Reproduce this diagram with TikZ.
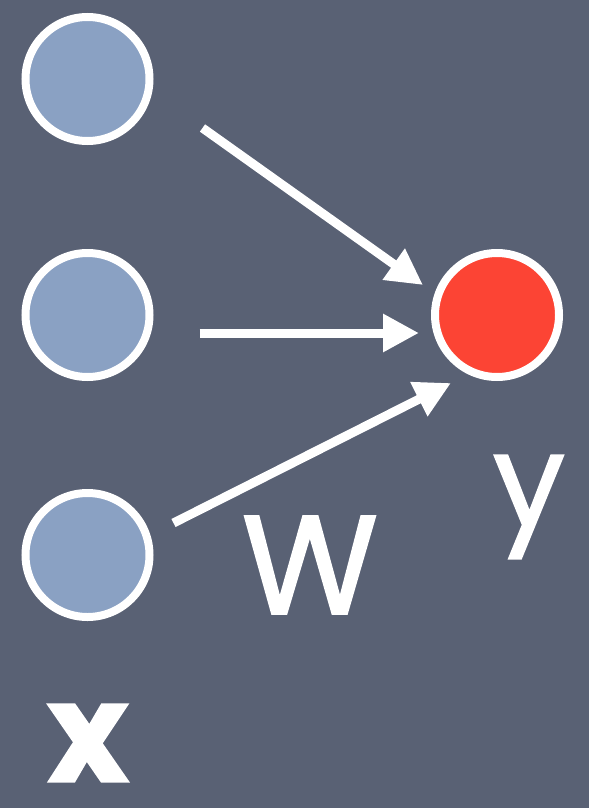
\documentclass[tikz,border=0pt]{standalone}
\usepackage{fontspec}
\setmainfont{Poppins}
\newfontfamily\chalkfont[FakeBold=1.5]{Poppins}
\usepackage{xcolor}
\usepackage{tikz}
\usetikzlibrary{arrows.meta,positioning}

\definecolor{slate}{HTML}{596174}
\definecolor{unitblue}{HTML}{8AA1C3}
\definecolor{unitred}{HTML}{FC4434}

\begin{document}
\begin{tikzpicture}[x=1pt, y=-1pt,
  unit/.style={circle, draw=white, line width=8pt, minimum size=124pt, inner sep=0pt},
  inunit/.style={unit, fill=unitblue},
  outunit/.style={unit, fill=unitred},
  lbl/.style={text=white, inner sep=0pt, font=\chalkfont\fontsize{140}{140}\selectfont},
  arr/.style={-{Triangle[length=36pt, width=36pt]}, line width=9pt, white}
]
% background
\fill[slate] (0,0) rectangle (589,808);
\useasboundingbox (0,0) rectangle (589,808);
% Input layer
\node[inunit] (x1) at (87.5, 79) {};
\node[inunit] (x2) at (87.5, 315) {};
\node[inunit] (x3) at (87.5, 555) {};
% Output unit
\node[outunit] (y) at (497, 315) {};
% Labels
\node[lbl] (lx) at (88, 743) {\fontsize{138}{138}\selectfont\bfseries x};
\node[lbl] (lw) at (310, 565) {W};
\node[lbl] (ly) at (529, 507) {\fontsize{128}{128}\selectfont y};
% Weights
\draw[arr] ([shift={(115,49)}]x1.center)  -- ([shift={(-74,-30)}]y.center);
\draw[arr] ([shift={(112,18)}]x2.center)  -- ([shift={(-78,18)}]y.center);
\draw[arr] ([shift={(86,-32)}]x3.center)  -- ([shift={(-46,68)}]y.center);
\end{tikzpicture}
\end{document}
